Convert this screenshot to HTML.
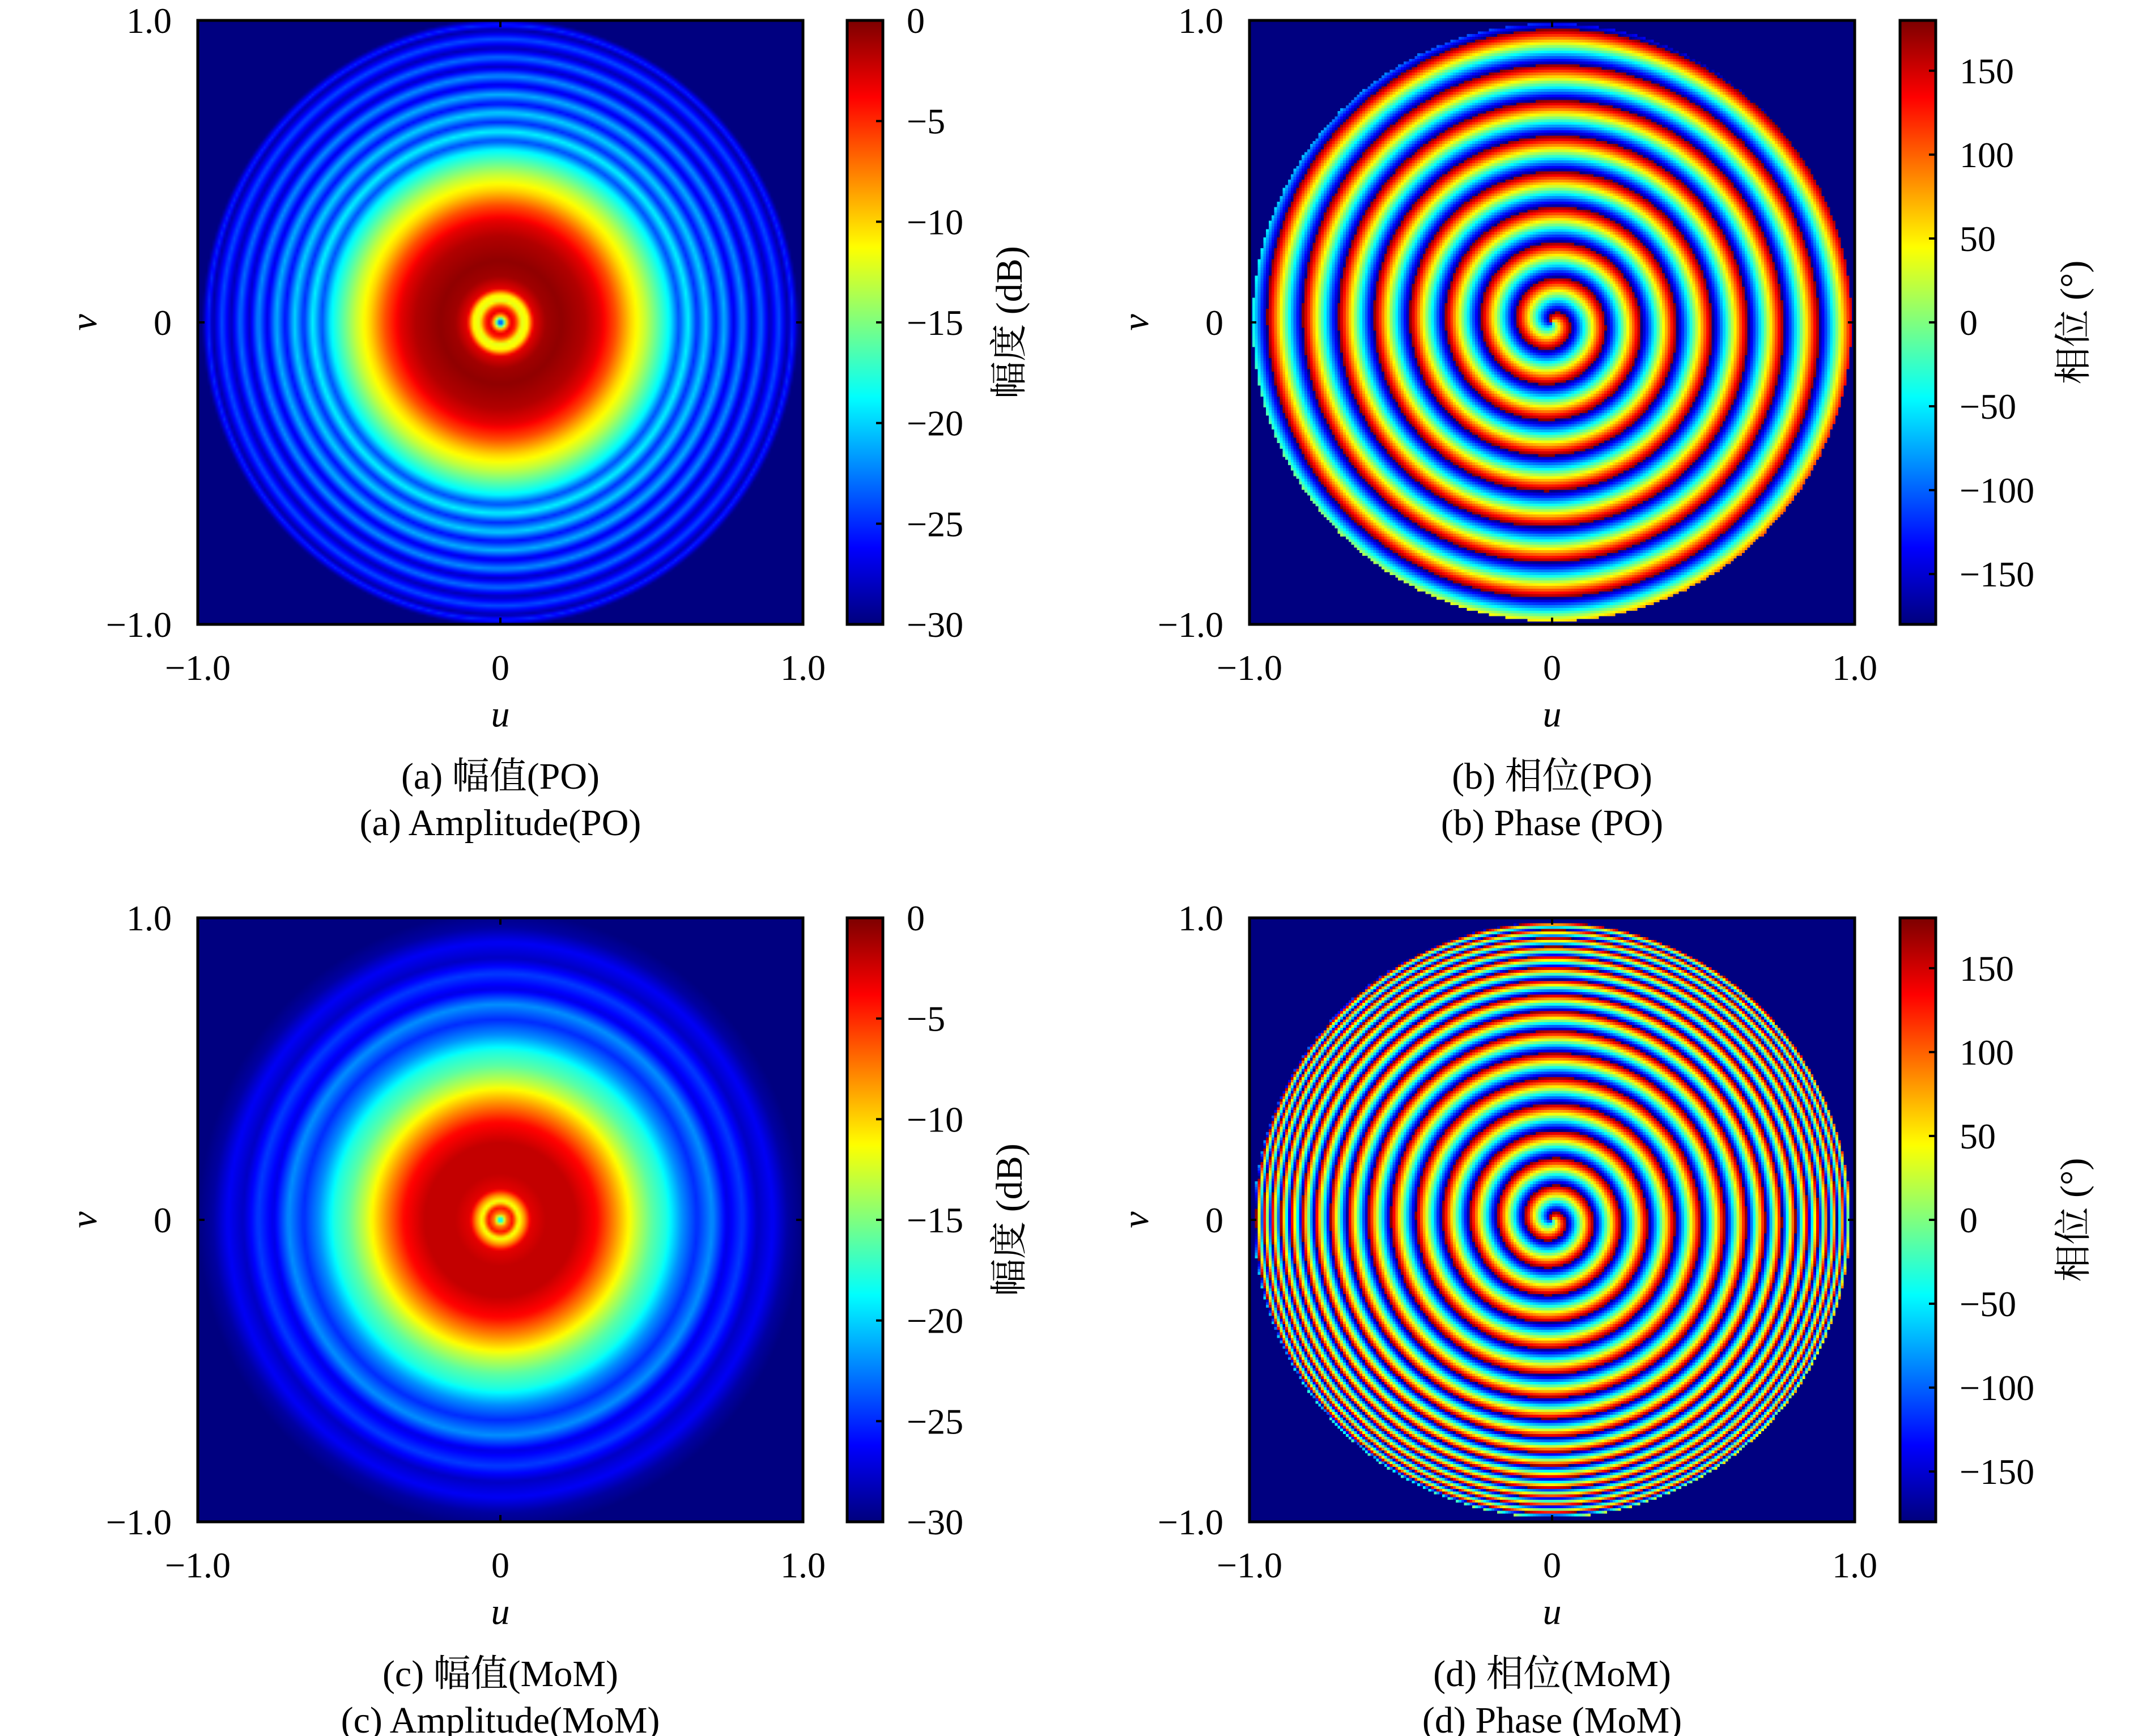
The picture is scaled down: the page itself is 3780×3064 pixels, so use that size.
<!DOCTYPE html>
<html><head><meta charset="utf-8">
<style>
html,body{margin:0;padding:0;background:#fff;}
#root{position:relative;width:3780px;height:3064px;overflow:hidden;background:#fff;}
canvas{position:absolute;}
svg{position:absolute;left:0;top:0;}
text{font-family:"Liberation Serif","Noto Serif CJK SC",serif;fill:#000;}
</style></head>
<body>
<div id="root">
<canvas id="c-a" width="240" height="240" style="left:349px;top:36px;width:1068px;height:1066px;"></canvas>
<canvas id="c-b" width="220" height="220" style="left:2205px;top:36px;width:1068px;height:1066px;image-rendering:pixelated;"></canvas>
<canvas id="c-c" width="240" height="240" style="left:349px;top:1620px;width:1068px;height:1066px;"></canvas>
<canvas id="c-d" width="220" height="220" style="left:2205px;top:1620px;width:1068px;height:1066px;image-rendering:pixelated;"></canvas>
<canvas id="cb-a" width="1" height="256" style="left:1495px;top:36px;width:63px;height:1066px;"></canvas>
<canvas id="cb-b" width="1" height="256" style="left:3353px;top:36px;width:63px;height:1066px;"></canvas>
<canvas id="cb-c" width="1" height="256" style="left:1495px;top:1620px;width:63px;height:1066px;"></canvas>
<canvas id="cb-d" width="1" height="256" style="left:3353px;top:1620px;width:63px;height:1066px;"></canvas>
<svg id="ov" width="3780" height="3064"></svg>
</div>
<script>
// ---- data ----
const axisTicks = [-1, 0, 1];
const axisTickLabels = ["\u22121.0", "0", "1.0"];
const ampTicks = [0, -5, -10, -15, -20, -25, -30];
const ampTickLabels = ["0", "\u22125", "\u221210", "\u221215", "\u221220", "\u221225", "\u221230"];
const phaseTicks = [150, 100, 50, 0, -50, -100, -150];
const phaseTickLabels = ["150", "100", "50", "0", "\u221250", "\u2212100", "\u2212150"];
// radial amplitude profiles (radius, dB)
const ampPoRadius = [0, 0.02, 0.035, 0.05, 0.07, 0.09, 0.11, 0.15, 0.2, 0.28, 0.33, 0.38, 0.43, 0.48, 0.52, 0.56, 0.59, 0.62, 0.65, 0.68, 0.71, 0.74, 0.77, 0.8, 0.83, 0.86, 0.89, 0.92, 0.95, 0.965, 0.985, 1.5];
const ampPoDb = [-28, -10, -3, -5, -12, -11, -3, -1, -0.5, -1.5, -3, -6, -10, -13, -16, -19, -24, -19, -25, -20, -26, -21, -27, -22, -28, -23, -28.5, -24, -29, -25, -30, -30];
const ampMomRadius = [0, 0.02, 0.04, 0.06, 0.08, 0.1, 0.15, 0.25, 0.32, 0.38, 0.45, 0.5, 0.55, 0.6, 0.65, 0.7, 0.75, 0.8, 0.85, 0.9, 0.95, 1.0, 1.5];
const ampMomDb = [-22, -8, -4, -12, -8, -3, -2, -2, -4, -8, -13, -16, -18, -22, -25, -22, -27, -24.5, -28, -26.5, -29, -30, -30];
// phase spiral: cycles across radius (linear term, high-order term)
const phasePoCycles = [8.5, 0];
const phaseMomCycles = [11, 6];
const phaseDiskRadius = [0.99, 0.985];

function clamp(x){return Math.max(0,Math.min(1,x));}
function jet(t){
  t=clamp(t);
  return [clamp(1.5-Math.abs(4*t-3))*255, clamp(1.5-Math.abs(4*t-2))*255, clamp(1.5-Math.abs(4*t-1))*255];
}
function interp(xs, ys, x){
  if(x<=xs[0]) return ys[0];
  for(let i=1;i<xs.length;i++){ if(x<=xs[i]){const f=(x-xs[i-1])/(xs[i]-xs[i-1]);return ys[i-1]+f*(ys[i]-ys[i-1]);} }
  return ys[ys.length-1];
}
function drawAmp(id, rs, dbs){
  const c=document.getElementById(id), ctx=c.getContext('2d'), R=c.width;
  const img=ctx.createImageData(R,R);
  for(let j=0;j<R;j++)for(let i=0;i<R;i++){
    const u=(i+0.5)/R*2-1, v=1-(j+0.5)/R*2;
    const r=Math.sqrt(u*u+(v/1.02)*(v/1.02));
    const db=interp(rs,dbs,r);
    const col=jet((db+30)/30), k=(j*R+i)*4;
    img.data[k]=col[0];img.data[k+1]=col[1];img.data[k+2]=col[2];img.data[k+3]=255;
  }
  ctx.putImageData(img,0,0);
}
function drawPhase(id, cyc, rad){
  const c=document.getElementById(id), ctx=c.getContext('2d'), R=c.width;
  const img=ctx.createImageData(R,R);
  for(let j=0;j<R;j++)for(let i=0;i<R;i++){
    const u=(i+0.5)/R*2-1, v=1-(j+0.5)/R*2;
    const r=Math.sqrt(u*u+v*v);
    let col;
    if(r>rad){col=jet(0);}else{
      let p=Math.atan2(v,u)+2*Math.PI*(cyc[0]*r+cyc[1]*Math.pow(r,6));
      p=((p+Math.PI)%(2*Math.PI)+2*Math.PI)%(2*Math.PI);
      col=jet(p/(2*Math.PI));
    }
    const k=(j*R+i)*4;
    img.data[k]=col[0];img.data[k+1]=col[1];img.data[k+2]=col[2];img.data[k+3]=255;
  }
  ctx.putImageData(img,0,0);
}
function drawCb(id){
  const c=document.getElementById(id), ctx=c.getContext('2d');
  for(let j=0;j<256;j++){const col=jet(1-j/255);ctx.fillStyle=`rgb(${col[0]|0},${col[1]|0},${col[2]|0})`;ctx.fillRect(0,j,1,1);}
}
drawAmp('c-a',ampPoRadius,ampPoDb);
drawAmp('c-c',ampMomRadius,ampMomDb);
drawPhase('c-b',phasePoCycles,phaseDiskRadius[0]);
drawPhase('c-d',phaseMomCycles,phaseDiskRadius[1]);
['cb-a','cb-b','cb-c','cb-d'].forEach(drawCb);

const NS='http://www.w3.org/2000/svg', ov=document.getElementById('ov');
function el(tag, attrs, txt){const e=document.createElementNS(NS,tag);for(const k in attrs)e.setAttribute(k,attrs[k]);if(txt!==undefined)e.textContent=txt;ov.appendChild(e);return e;}
const W=1068,H=1066;
const panels=[
 {k:'a',x:349,y:36,cbx:1495,amp:true,cap1:'(a) 幅值(PO)',cap2:'(a) Amplitude(PO)'},
 {k:'b',x:2205,y:36,cbx:3353,amp:false,cap1:'(b) 相位(PO)',cap2:'(b) Phase (PO)'},
 {k:'c',x:349,y:1620,cbx:1495,amp:true,cap1:'(c) 幅值(MoM)',cap2:'(c) Amplitude(MoM)'},
 {k:'d',x:2205,y:1620,cbx:3353,amp:false,cap1:'(d) 相位(MoM)',cap2:'(d) Phase (MoM)'}
];
panels.forEach(p=>{
  const sx=v=>p.x+(v+1)/2*W, sy=v=>p.y+(1-v)/2*H;
  const frame=el('rect',{x:p.x,y:p.y,width:W,height:H,fill:'none',stroke:'#000','stroke-width':5});
  
  
  axisTicks.forEach((t,i)=>{
    el('line',{x1:sx(t),y1:p.y+H,x2:sx(t),y2:p.y+H-12,stroke:'#000','stroke-width':4});
    el('line',{x1:sx(t),y1:p.y,x2:sx(t),y2:p.y+12,stroke:'#000','stroke-width':4});
    el('line',{x1:p.x,y1:sy(t),x2:p.x+12,y2:sy(t),stroke:'#000','stroke-width':4});
    el('line',{x1:p.x+W,y1:sy(t),x2:p.x+W-12,y2:sy(t),stroke:'#000','stroke-width':4});
    const xl=el('text',{x:sx(t),y:p.y+H+98,'font-size':64,'text-anchor':'middle'},axisTickLabels[i]);
    
    
    const yl=el('text',{x:p.x-46,y:sy(t)+22,'font-size':64,'text-anchor':'end'},axisTickLabels[i]);
    
    
  });
  const xt=el('text',{x:p.x+W/2,y:p.y+H+180,'font-size':66,'font-style':'italic','text-anchor':'middle'},'u');
  
  
  const ycx=p.x-195, ycy=p.y+H/2;
  const yt=el('text',{x:ycx,y:ycy+16,'font-size':66,'font-style':'italic','text-anchor':'middle',transform:`rotate(-90 ${ycx} ${ycy})`},'v');
  
  
  const c1=el('text',{x:p.x+W/2,y:p.y+H+290,'font-size':66,'text-anchor':'middle'},p.cap1);
  
  
  const c2=el('text',{x:p.x+W/2,y:p.y+H+372,'font-size':66,'text-anchor':'middle'},p.cap2);
  
  
  // colorbar
  const cbw=63;
  const cbf=el('rect',{x:p.cbx,y:p.y,width:cbw,height:H,fill:'none',stroke:'#000','stroke-width':5});
  
  
  const ticks=p.amp?ampTicks:phaseTicks, labs=p.amp?ampTickLabels:phaseTickLabels;
  const cy=p.amp?(v=>p.y+(0-v)/30*H):(v=>p.y+(180-v)/360*H);
  ticks.forEach((t,i)=>{
    el('line',{x1:p.cbx+cbw,y1:cy(t),x2:p.cbx+cbw-12,y2:cy(t),stroke:'#000','stroke-width':4});
    const tl=el('text',{x:p.cbx+cbw+42,y:cy(t)+22,'font-size':64,'text-anchor':'start'},labs[i]);
    
    
  });
  const lx=p.amp?1781:3659, ly=p.y+H/2;
  const lbl=el('text',{x:lx,y:ly+22,'font-size':66,'text-anchor':'middle',transform:`rotate(-90 ${lx} ${ly})`},p.amp?'幅度 (dB)':'相位 (°)');
  
  
});
</script>
</body></html>
